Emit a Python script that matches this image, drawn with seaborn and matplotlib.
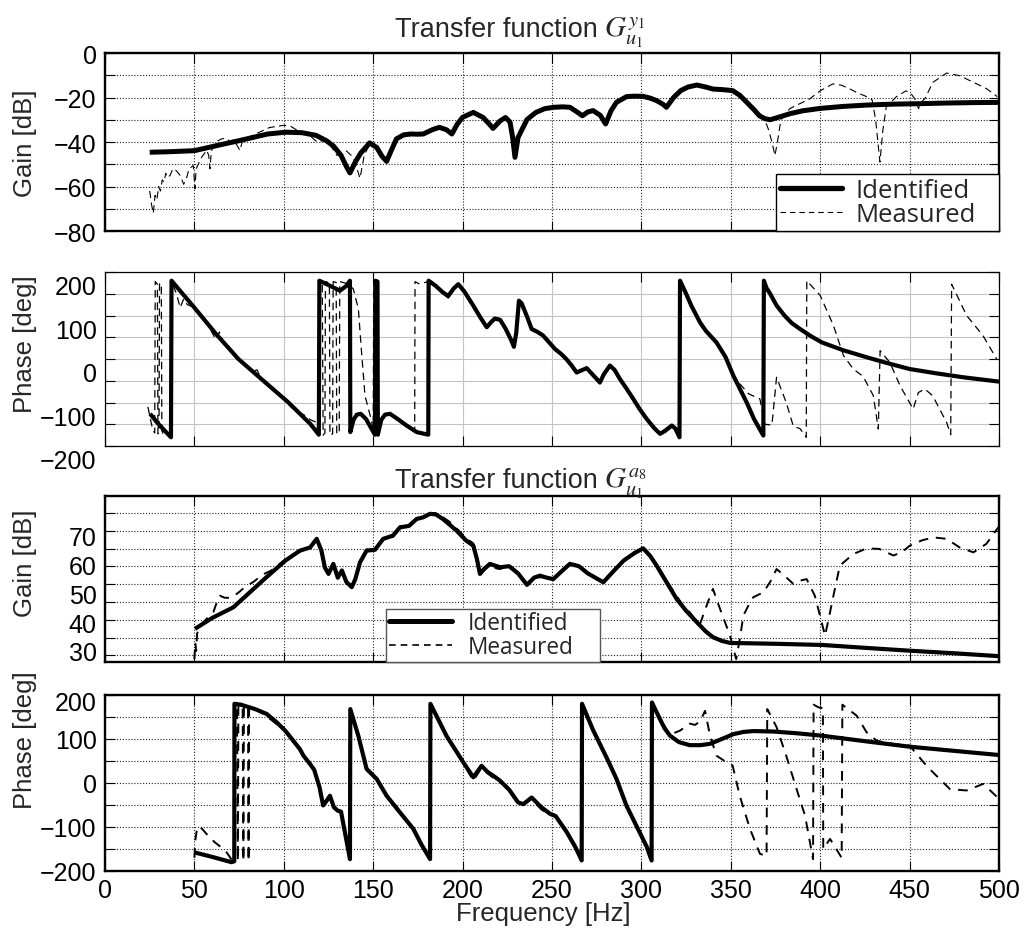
import numpy as np
import pandas as pd
import seaborn as sns
import matplotlib
matplotlib.use("Agg")
import matplotlib.pyplot as plt
import matplotlib.transforms as mtransforms
from matplotlib.ticker import MultipleLocator
from matplotlib.lines import Line2D

# ---------------- data (frequency [Hz], value) ----------------
GAIN1_ID = [(25,-44.6),(35,-44.4),(50,-43.9),(62,-41.7),(75,-39.4),(91,-36.4),(101,-35.6),(110,-35.8),
            (118,-37.0),(124,-39.5),(128,-42.0),(132,-46.0),(135,-51.0),(137,-53.9),(140,-49.0),(143,-45.0),
            (148,-40.4),(152,-42.5),(155,-46.5),(157.5,-48.7),(160,-44.0),(163,-38.6),(167,-36.8),(171,-36.4),
            (175,-36.5),(178,-36.4),(183,-34.5),(187,-33.4),(191,-34.5),(194,-36.4),(197,-32.0),(200,-28.9),
            (206,-26.7),(211.5,-29.0),(215,-32.0),(217,-33.9),(221,-30.5),(224,-29.0),(226.5,-31.0),(228,-38.0),
            (229.3,-46.9),(231,-38.0),(236,-29.9),(241,-26.7),(246,-25.0),(251,-24.4),(256,-24.2),(260,-24.4),
            (264,-26.5),(267,-28.2),(270,-26.5),(273,-25.9),(277,-28.0),(280,-31.9),(283,-26.0),(286,-22.2),
            (291.7,-19.6),(296,-19.4),(301,-19.5),(305,-20.3),(308.5,-21.4),(312,-23.0),(314,-24.4),(318,-20.0),
            (322,-16.9),(326,-15.3),(331,-14.4),(336,-15.3),(340,-16.2),(346,-16.5),(351,-16.9),(355,-19.0),
            (359,-22.2),(363,-25.5),(366,-28.2),(369,-29.5),(372,-30.0),(377,-28.8),(383,-27.3),(390,-26.0),
            (400,-24.9),(413,-24.0),(426,-23.4),(440,-23.0),(454,-22.8),(470,-22.5),(485,-22.3),(500,-22.2)]

GAIN1_MEAS = [(25,-62),(26,-68),(27,-72),(28,-64),(29,-66),(30,-60),(31,-62),(32,-57),(33,-58),(34,-54),
              (35,-56),(36.4,-55),(38,-52),(40,-53),(42,-55),(44,-59),(45.7,-56),(47,-52),(49.4,-50.6),
              (50.3,-61),(51,-52),(54,-46.9),(56.9,-43.7),(58,-46),(58.7,-52),(59.5,-44),(62,-40),(65.2,-38.6),
              (68,-38.3),(70,-40),(72,-39),(75.5,-43.8),(77,-39),(80,-38),(84,-36.5),(88,-35),(92,-33.5),
              (96,-33),(100,-32.5),(104,-33),(108,-35),(113,-36),(118.6,-40),(124,-39),(129.7,-46),(135,-44),
              (139,-47),(142.6,-56.3),(145,-46),(148,-41),(152,-42.8),(155,-47),(157.5,-48.2),(160,-43.5),
              (163,-38),(167,-37.5),(171,-35.8),(175,-37),(178,-36),(183,-34.2),(187,-33.8),(191,-34),
              (194,-36.8),(197,-32.5),(200,-28.5),(206,-27.2),(211.5,-28.5),(215,-31.2),(217,-34.5),(221,-30),
              (224,-29.5),(226.5,-31.5),(228,-39),(229.3,-46.5),(231,-37),(236,-30.5),(241,-26.2),(246,-25.4),
              (251,-24.8),(256,-23.8),(260,-24.8),(264,-26),(267,-28.8),(270,-26.8),(273,-25.4),(277,-28.6),
              (280,-31.5),(283,-26.5),(286,-22.6),(291.7,-19.9),(296,-19.1),(301,-19.8),(305,-20.8),(308.5,-21),
              (312,-23.6),(314,-24),(318,-20.5),(322,-16.5),(326,-15.6),(331,-14.1),(336,-15.6),(340,-15.9),
              (346,-16.8),(351,-16.5),(355,-19.5),(359,-23),(362.6,-24.4),(366,-27),(369,-30),(371,-34.2),
              (373,-40),(374.7,-46.1),(376.5,-38),(378,-30),(383,-25),(388,-23),(394,-20.7),(400,-17),
              (407,-13.9),(412,-14.5),(416.7,-16.2),(421,-18),(426,-19.6),(429,-21),(431,-30),(433.4,-49),
              (435,-35),(437,-24),(442.7,-19.6),(448,-17),(451,-18.5),(453,-20.7),(455,-25),(456.5,-22),
              (458.6,-20.5),(463,-13.2),(470.7,-9),(478,-10.2),(487.5,-13.9),(493,-16),(499,-19.6)]

PHASE1_ID = [(25.2,-126),(30,-150),(36.9,-180),(37.2,180),(50,118),(62,58),(74.6,0),(88,-48),(102.6,-100),
             (115,-150),(119.6,-174),(119.9,180),(125,170),(131.4,157),(135,168),(137,180),(137.2,-168),
             (139,-140),(140.8,-128),(143,-126),(146,-138),(149,-160),(151,-174),(151.2,180),(152.4,178),
             (152.6,-174),(154.5,-140),(156.6,-128),(159.4,-126),(163,-136),(168.7,-153),(174.3,-168),
             (180.8,-174),(181,180),(185,168),(189,153),(192,145),(195,162),(197.6,172),(201,155),(206,122.6),
             (210,95),(213.5,73),(216,85),(218,93),(221,90),(224,70),(227,45),(228.7,28),(230,60),(231.5,134),
             (233,128),(236,98),(238.6,69),(242,62),(245,54),(248,40),(251.7,23),(255,12),(258,0),(261,-15),
             (263.8,-31),(266,-27),(269.4,-21),(273,-37),(276.8,-54),(279,-35),(282.4,-15),(285,-25),(288,-46),
             (292,-70),(295.5,-92),(299,-115),(303,-138),(307,-158),(310.4,-172),(313,-166),(317,-153),
             (319,-160),(321.3,-180),(321.6,180),(325,150),(328,122),(332.8,84),(336,65),(342,38),(347,5),
             (351.4,-38),(355,-68),(358.9,-100),(363,-138),(368.2,-176),(368.5,180),(370,163),(372,150),
             (375.6,123),(380,100),(384,83),(388.7,69),(395,52),(401,38),(413,20),(426,4),(438,-10),(450,-23),
             (465,-33),(480,-42),(500,-52)]

PHASE1_MEAS = [(24,-110),(25,-130),(26,-150),(27,-165),(27.8,-170),(28.1,178),(29.3,172),(29.6,-172),
               (30.2,-170),(30.5,175),(31.5,170),(31.8,-175),(33,-160),(35,-170),(36.9,-178),(37.2,178),
               (40,150),(42,118),(44,138),(46,125),(49,120),(52,108),(55,95),(58,75),(60,60),(62,45),(64,62),
               (66,40),(70,20),(73,8),(76,-8),(79,-12),(82,-30),(85,-25),(88,-50),(92,-62),(96,-80),(100,-92),
               (104,-110),(108,-122),(112,-130),(115,-140),(118,-145),(119.6,-170),(119.9,178),(121.5,172),
               (122,-175),(123,-170),(123.3,178),(125.5,175),(125.8,-175),(127.3,-172),(127.6,178),(129.3,176),
               (129.6,-172),(131,-170),(131.3,178),(134,175),(136,172),(138.9,161),(141.7,115),(143.5,15),
               (145.4,-84),(148.3,-130),(150,-160),(150.3,178),(152.4,176),(152.6,-172),(154.5,-140),
               (156.6,-128),(159.4,-126),(163,-138),(168.7,-155),(172,-163),(173.2,-166),(173.4,178),(176,172),
               (179,176),(181,178),(185,166),(189,150),(192,140),(195,160),(197.6,172),(201,152),(206,118),
               (210,92),(213.5,70),(216,87),(218,95),(221,88),(224,68),(227,42),(228.7,30),(230,60),(231.5,130),
               (233,126),(236,95),(238.6,66),(242,60),(245,52),(248,38),(251.7,20),(255,10),(258,-2),(261,-18),
               (263.8,-33),(266,-25),(269.4,-23),(273,-40),(276.8,-57),(279,-36),(282.4,-17),(285,-27),(288,-48),
               (292,-72),(295.5,-94),(299,-116),(303,-140),(307,-160),(310.4,-170),(313,-162),(317,-150),
               (319,-162),(321.3,-178),(321.6,178),(325,148),(328,120),(332.8,82),(336,63),(342,36),(347,4),
               (351.4,-35),(355,-57),(360,-80),(366.3,-92),(369,-150),(373,-152),(375.6,-42),(381,-100),
               (385,-155),(388.7,-160),(392.2,-180),(392.5,180),(400,146),(407.4,77),(413,8),(418.5,-23),
               (424,-40),(429.7,-84),(432.5,-161),(433.5,19),(439,-8),(444.6,-61),(452,-115),(454.9,-77),
               (458.6,-69),(463,-85),(470.7,-146),(473,-174),(473.5,172),(481.9,100),(491,54),(498.7,0)]

GAIN2_ID = [(50.3,37.7),(60,41.5),(71.8,45.2),(81,50.4),(90,55.5),(100.8,61.4),(109,64.9),(114.7,66),
            (118.4,69),(121,65),(123,59),(125,56.8),(127.7,60.3),(130.2,55.5),(132.5,58),(135,54),(138,52.2),
            (140,55),(142.6,60.8),(146.3,64.9),(151,65.2),(155.6,69),(161,70.1),(165,73),(170,73.5),
            (174.3,75.9),(178,76.5),(181.8,77.7),(185,77.5),(189,75.9),(193,73.8),(196.7,71.8),(202,68.4),
            (206,66.6),(208,62),(209.7,56.8),(212,58.5),(215.3,60.3),(219,59.5),(221,59.1),(226,59.5),(231,57),
            (236,53),(240,55.5),(243.3,56.2),(247,55.5),(250.7,55),(255,57.5),(260,60.3),(265,59.5),(270,57),
            (278.7,53.9),(284,57.5),(290,61.4),(296,64),(301,65.7),(305,63),(308.5,59.7),(314,54),(319.7,48.1),
            (325,44),(331,40),(336,36.8),(340,34.8),(345,33.5),(349.6,32.8),(375,32.5),(401,32.1),(425,31.1),
            (450,30.1),(475,29.2),(500,28.2)]

GAIN2_MEAS = [(50,27.2),(50.5,33),(51,30),(51.5,36),(52.5,38),(55,40),(58,42),(60.6,43.5),(62,46),
              (64.3,49.2),(67,48.5),(70,48.5),(74,50),(79.2,52.7),(83,54),(88,56.5),(93,58),(100.8,61.8),
              (109,64.5),(114.7,66.3),(118.4,68.6),(121,65.4),(123,58.6),(125,57.2),(127.7,59.8),(130.2,55.9),
              (132.5,57.6),(135,54.4),(138,52.6),(140,55.4),(142.6,60.4),(146.3,65.3),(151,64.8),(155.6,69.4),
              (161,69.7),(165,73.4),(170,73.1),(174.3,76.3),(178,76.1),(181.8,78),(185,77.9),(189,76.5),
              (193,74.8),(196.7,72.6),(202,69.2),(206,67.4),(208,62.5),(209.7,57.5),(212,58.1),(215.3,60),
              (219,58.7),(221,58.5),(226,59.8),(231,56.4),(236,53.4),(240,55.9),(243.3,55.6),(247,55.9),
              (250.7,54.6),(255,57.9),(260,60),(265,59.9),(270,56.6),(278.7,54.3),(284,57.1),(290,61.8),
              (296,64.3),(301,65.4),(305,63.3),(308.5,59.4),(314,54.4),(319.7,49.2),(323,46),(327,43.5),
              (330,41),(332.8,39.4),(336,45),(340,51.6),(344,44.6),(349.6,35.3),(353,27.2),(355,34),(357,42.3),
              (360,46),(362.6,48.7),(368.2,50.4),(372,54),(375.6,58.5),(380,56.2),(385,53.3),(389,54.5),
              (392.4,55),(397,49.2),(400,42),(402.7,35.3),(405,42),(407.4,49.2),(411,59.7),(418.5,63.7),
              (426,65.7),(433,65.5),(441,63.2),(446,64.5),(450,66.6),(457,68.5),(463.3,69.5),(470.7,69),
              (478,66),(485.7,64.3),(493,67.3),(499.6,73)]

PHASE2_ID = [(50.3,-158),(60,-168),(70.8,-180),(72.3,-178),(72.4,180),(76,178),(83.9,168),(90.4,157),
             (96,138),(100.8,119),(105.3,96),(109,77),(111,62),(114.7,43),(117,30),(120,-10),(122,-51),
             (124,-40),(125.8,-29),(128,-55),(130.2,-63),(132,-65),(137,-173),(137.2,168),(141.7,107),
             (146.3,32),(152,9),(157.5,-29),(165,-67),(172.4,-104),(177,-140),(181.8,-173),(182,180),(191,107),
             (200.4,47),(206,13),(210.6,39),(214,25),(217,17),(221,5),(226,-15),(231,-44),(234,-48),(238.6,-33),
             (244,-55),(248.9,-70),(252,-75),(258,-110),(263,-145),(266.6,-176),(266.8,180),(273,120),
             (280.5,58),(286,10),(291.7,-52),(299,-112),(303,-145),(305.7,-176),(305.9,183),(308,165),
             (310.4,145),(313,124),(316,107.5),(321,93),(327,86),(333,86),(338.4,89),(345,100),(351.4,111),
             (357,116),(362.6,118),(373.8,117),(387,113),(401,107.5),(425,95),(450,82.5),(475,73),(500,63.6)]

PHASE2_MEAS = [(50,-170),(50.5,-130),(51.5,-103),(52.5,-98),(54,-103),(56,-112),(58,-122),(61.5,-135),
               (64,-143),(67,-152),(69.8,-168),(71,-176),(72.2,-178),(72.4,178),(73.8,170),(74.3,-178),
               (74.6,178),(77,172),(77.4,-178),(77.7,178),(80,170),(80.3,-178),(80.6,176),(84,168),(88,158),
               (93.2,143),(100.8,118),(109,76),(114.7,42),(117,32),(120,-12),(122,-52),(124,-42),(125.8,-31),
               (128,-57),(130.2,-65),(132,-68),(137,-172),(137.2,168),(141.7,105),(146.3,30),(152,7),
               (157.5,-31),(165,-69),(172.4,-106),(177,-142),(181.8,-172),(182,178),(191,105),(200.4,45),
               (206,5),(210.6,35),(214,22),(217,12),(221,2),(226,-18),(231,-46),(234,-50),(238.6,-36),(244,-60),
               (248.9,-72),(252,-77),(258,-112),(263,-146),(266.6,-175),(266.8,178),(273,118),(280.5,56),
               (286,8),(291.7,-54),(299,-114),(303,-146),(305.7,-175),(305.9,180),(310.4,145),(316,110),
               (321.6,119),(327,135),(330,132),(332.8,140),(335.6,164),(338.4,107),(342,62),(347.7,47),
               (351,40),(355,-29),(360.7,-104),(366.3,-161),(370,-166),(370.4,168),(375.6,127),(381,62),
               (386.8,-14),(391.5,-74),(396,-173),(396.3,178),(399,172),(401.5,170),(401.7,-150),(405.5,-127),
               (412,-170),(412.4,178),(420.4,153),(426,115),(431.6,96),(441,88.6),(450,85),(459.5,39),
               (465,16.6),(472.6,-14),(481.9,-17),(491.2,-2),(500,-36)]

FREQ_TICKS = [0, 50, 100, 150, 200, 250, 300, 350, 400, 450, 500]
GAIN1_TICKS = [-80, -60, -40, -20, 0]
PHASE_TICKS = [-200, -100, 0, 100, 200]
GAIN2_TICKS = [30, 40, 50, 60, 70]
LEGEND_LABELS = ["Identified", "Measured"]
TITLE_TEXT = "Transfer function"
TITLE_MATH = [r"$G_{u_1}^{y_1}$", r"$G_{u_1}^{a_8}$"]

# ---------------- style ----------------
sns.set_theme(style="white")
plt.rcParams["font.family"] = ["Liberation Sans", "DejaVu Sans"]
plt.rcParams["mathtext.fontset"] = "stix"

W, H = 1033, 929
fig = plt.figure(figsize=(W / 100, H / 100), dpi=100)
fig.patch.set_facecolor("white")


def axes_px(left, top, right, bottom):
    return fig.add_axes([left / W, 1 - bottom / H, (right - left) / W, (bottom - top) / H])


ax1 = axes_px(105, 54, 999, 232)
ax2 = axes_px(105, 273, 999, 447)
ax3 = axes_px(105, 497, 999, 663)
ax4 = axes_px(105, 696, 999, 872)

DOT = dict(color="#222222", linestyle=(0, (1, 1.6)), linewidth=0.8)
LIGHT = dict(color="#c4c4c4", linestyle="-", linewidth=0.8)


def draw(ax, pairs, lw, dashes=None, z=3):
    df = pd.DataFrame(pairs, columns=["f", "v"])
    sns.lineplot(data=df, x="f", y="v", ax=ax, color="black", linewidth=lw,
                 sort=False, estimator=None, legend=False, zorder=z)
    line = ax.lines[-1]
    if dashes is not None:
        line.set_linestyle((0, dashes))
    line.set_solid_joinstyle("round")
    line.set_solid_capstyle("butt")
    return line


def base_style(ax, spine_lw):
    ax.set_xlim(0, 500)
    ax.set_xticks(FREQ_TICKS)
    ax.set_facecolor("white")
    for s in ax.spines.values():
        s.set_visible(True)
        s.set_linewidth(spine_lw)
        s.set_color("black")
    ax.tick_params(which="both", direction="in", top=True, right=True, bottom=True, left=True,
                   length=7, width=0.8, color="black", labelsize=18, labelcolor="black", pad=6)
    ax.set_xlabel("")
    ax.set_ylabel("")


# Panel 1: gain of G_u1^y1
draw(ax1, GAIN1_ID, 3.6)
draw(ax1, GAIN1_MEAS, 0.8, dashes=(6.5, 4))
base_style(ax1, 1.7)
ax1.set_ylim(-80, 0)
ax1.set_yticks(GAIN1_TICKS)
ax1.yaxis.set_minor_locator(MultipleLocator(10))
ax1.grid(True, which="both", **DOT)
ax1.tick_params(labelbottom=False)

# Panel 2: phase of G_u1^y1
draw(ax2, PHASE1_ID, 3.0)
draw(ax2, PHASE1_MEAS, 0.9, dashes=(6, 4))
base_style(ax2, 0.9)
ax2.set_ylim(-200, 200)
ax2.set_yticks(PHASE_TICKS)
ax2.yaxis.set_minor_locator(MultipleLocator(50))
ax2.grid(True, which="both", **LIGHT)
ax2.tick_params(labelbottom=False)

# Panel 3: gain of G_u1^a8
draw(ax3, GAIN2_ID, 3.0)
draw(ax3, GAIN2_MEAS, 1.4, dashes=(5, 4))
base_style(ax3, 1.7)
ax3.set_ylim(26.17, 83.9)
ax3.set_yticks(GAIN2_TICKS)
ax3.yaxis.set_minor_locator(MultipleLocator(6.19, offset=3.74))
ax3.tick_params(axis="y", which="major", length=0)
ax3.xaxis.grid(True, which="major", **DOT)
ax3.yaxis.grid(True, which="minor", **DOT)
ax3.yaxis.grid(False, which="major")
ax3.tick_params(labelbottom=False)

# Panel 4: phase of G_u1^a8
draw(ax4, PHASE2_ID, 3.0)
draw(ax4, PHASE2_MEAS, 1.4, dashes=(5, 4))
base_style(ax4, 1.7)
ax4.set_ylim(-200, 200)
ax4.set_yticks(PHASE_TICKS)
ax4.yaxis.set_minor_locator(MultipleLocator(50))
ax4.grid(True, which="both", **DOT)
ax4.tick_params(axis="x", pad=5)
ax4.set_xticklabels([str(t) for t in FREQ_TICKS])

# offsets of y tick labels as in the reference
off13 = mtransforms.ScaledTranslation(0, -0.13, fig.dpi_scale_trans)
for t in ax2.yaxis.get_major_ticks():
    t.label1.set_transform(t.label1.get_transform() + off13)
off6 = mtransforms.ScaledTranslation(0, -0.06, fig.dpi_scale_trans)
top_tick = ax4.yaxis.get_major_ticks()[-1]
top_tick.label1.set_transform(top_tick.label1.get_transform() + off6)

# legends
h_id = Line2D([], [], color="black", lw=3.8)
h_me = Line2D([], [], color="black", lw=0.8, linestyle=(0, (5, 3.5)))
leg1 = ax1.legend([h_id, h_me], LEGEND_LABELS, loc="lower left",
                  bbox_to_anchor=((776 - 105) / 894, 0, (999 - 776) / 894, 0.35), mode="expand",
                  borderaxespad=0, frameon=True, fancybox=False, framealpha=1, edgecolor="black",
                  prop={"family": "Open Sans", "size": 18.5}, handlelength=2.4, handletextpad=0.55,
                  labelspacing=-0.02, borderpad=0.15)
leg1.get_frame().set_linewidth(1.0)
leg1.set_zorder(10)

h_id2 = Line2D([], [], color="black", lw=3.6)
h_me2 = Line2D([], [], color="black", lw=1.2, linestyle=(0, (4, 3)))
leg2 = ax3.legend([h_id2, h_me2], LEGEND_LABELS, loc="lower left",
                  bbox_to_anchor=((386 - 105) / 894, 0, (600 - 386) / 894, 0.4), mode="expand",
                  borderaxespad=0, frameon=True,
                  fancybox=False, framealpha=1, edgecolor="#555555",
                  prop={"family": "Open Sans", "size": 16.3}, handlelength=2.8, handletextpad=0.7,
                  labelspacing=0.0, borderpad=0.12)
leg2.get_frame().set_linewidth(1.0)
leg2.set_zorder(10)

# titles: plain text followed by the math symbol, placed right after the text
fig.canvas.draw()
renderer = fig.canvas.get_renderer()
for ybase, math in [(37, TITLE_MATH[0]), (488, TITLE_MATH[1])]:
    t = fig.text(395 / W, 1 - ybase / H, TITLE_TEXT, fontsize=19.5, ha="left", va="baseline")
    bb = t.get_window_extent(renderer)
    fig.text((bb.x1 + 6) / W, 1 - ybase / H, math, fontsize=21, ha="left", va="baseline")

for ypx, txt in [(143, "Gain [dB]"), (344, "Phase [deg]"), (563, "Gain [dB]"), (740, "Phase [deg]")]:
    fig.text(25 / W, 1 - ypx / H, txt, rotation=90, ha="center", va="center", fontsize=18.5)
fig.text(543 / W, 1 - 921 / H, "Frequency [Hz]", ha="center", va="baseline", fontsize=18.5)

fig.savefig("out.png", dpi=100, facecolor="white")
